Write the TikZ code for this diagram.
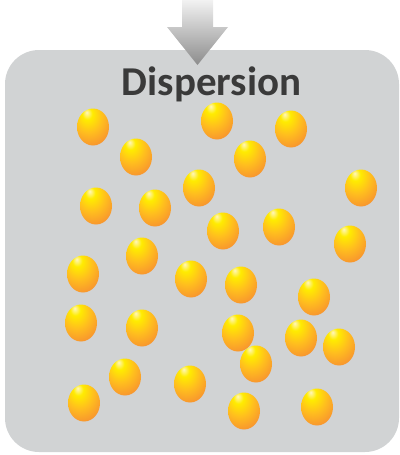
\documentclass[tikz,border=0pt]{standalone}
\usepackage{fontspec}
\setmainfont{Carlito}
\usetikzlibrary{shapes.geometric}
\definecolor{panel}{RGB}{209,211,212}
\definecolor{ink}{RGB}{58,58,58}
\definecolor{arrtop}{RGB}{242,242,242}
\definecolor{arrbot}{RGB}{140,140,140}
\definecolor{eggA}{RGB}{255,246,190}
\definecolor{eggB}{RGB}{255,236,0}
\definecolor{eggC}{RGB}{255,190,30}
\definecolor{eggD}{RGB}{246,140,50}
\pgfdeclareradialshading{egg}{\pgfpoint{-10bp}{20bp}}{%
  color(0bp)=(eggA); color(8bp)=(eggB); color(22bp)=(eggC);
  color(40bp)=(eggD); color(80bp)=(eggD)}

\begin{document}
\begin{tikzpicture}[
    x=1pt, y=-1pt,
    drop/.style={ellipse, shading=egg, draw=none, minimum width=32pt, minimum height=37pt, inner sep=0pt},
    title/.style={font=\bfseries\fontsize{41}{41}\selectfont, text=ink, inner sep=0pt},
  ]
  \useasboundingbox (0,0) rectangle (399,455);

  %% ---------------- panel ----------------
  \fill[panel, rounded corners=34pt] (5,50) rectangle (399,452);

  %% ---------------- incoming arrow ----------------
  \shade[top color=arrtop, bottom color=arrbot]
    (182,0) -- (213,0) -- (213,27) -- (228,27) -- (197.5,65)
    -- (167,27) -- (182,27) -- cycle;

  \node[title, anchor=base] (head) at (211.5,95) {Dispersion};

  %% ---------------- droplets ----------------
  \foreach \px/\py [count=\i] in {
      93/127, 217/121, 291/129, 136/157, 250/159, 361/188, 96/206,
      155/208, 199/188, 223/231, 279/227, 350/244, 142/256, 83/274,
      191/279, 241/285, 314/297, 81/323, 142/328, 238/333, 301/338,
      339/347, 256/364, 125/377, 190/384, 84/403, 244/411, 317/407} {
    \node[drop] (d\i) at (\px,\py) {};
  }

\end{tikzpicture}
\end{document}
